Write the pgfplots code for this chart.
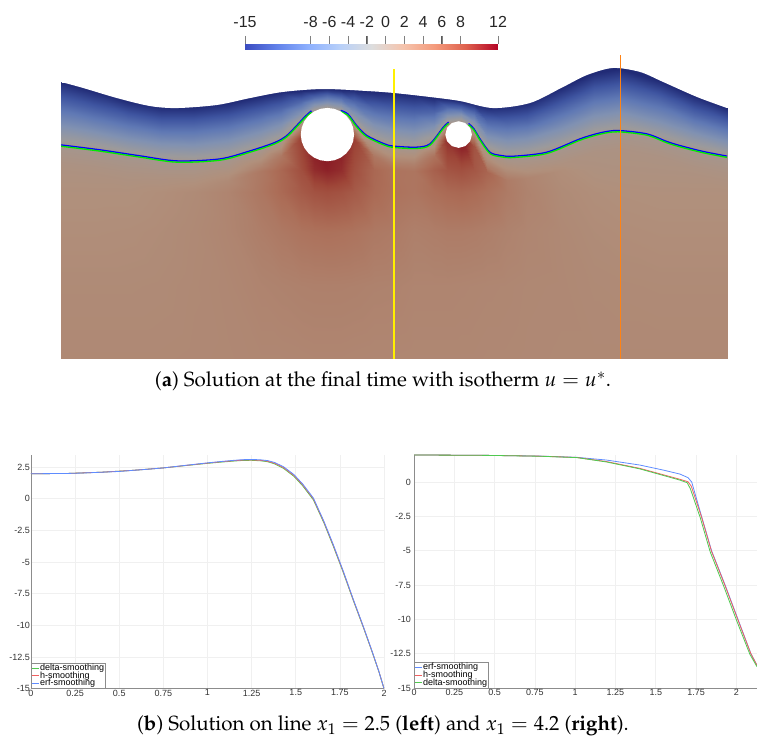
\documentclass[border=0pt]{standalone}
\usepackage{fontspec}
\usepackage[T1]{fontenc}
\IfFileExists{mathpazo.sty}{\usepackage{mathpazo}}{}
\usepackage{pgfplots}
\pgfplotsset{compat=1.18}
\newfontfamily\sansf{Liberation Sans}
\definecolor{isoblue}{RGB}{0,0,255}
\definecolor{isogreen}{RGB}{0,235,0}
\definecolor{vyellow}{RGB}{255,240,0}
\definecolor{vorange}{RGB}{255,130,20}
\definecolor{cerf}{RGB}{95,140,255}
\definecolor{ch}{RGB}{240,95,95}
\definecolor{cdelta}{RGB}{80,200,80}
\definecolor{tickgray}{RGB}{90,90,90}
\newcommand\capsize{\fontsize{20.5}{24}\selectfont}
\newcommand\tickf{\sansf\fontsize{9}{9}\selectfont}
\begin{document}
\begin{tikzpicture}[x=1pt,y=1pt]
\path[use as bounding box] (0,0) rectangle (757,746);

% ---------- colour bar gradient and its tick marks
\begin{axis}[at={(245pt,696pt)}, anchor=south west, scale only axis,
  width=253pt, height=6pt, view={0}{90}, clip=false,
  xmin=-15, xmax=12, ymin=0, ymax=1, zmin=-1, zmax=1, hide axis,
  colormap={cw}{rgb255=(59,76,192) rgb255=(98,130,234) rgb255=(141,176,254)
    rgb255=(184,208,249) rgb255=(221,221,221) rgb255=(245,196,173)
    rgb255=(244,154,123) rgb255=(222,96,77) rgb255=(180,4,38)},
  point meta min=-15, point meta max=12]
\addplot3[surf, shader=interp, mesh/cols=9, point meta=x] coordinates {
(-15,0,0) (-11.625,0,0) (-8.25,0,0) (-4.875,0,0) (-1.5,0,0) (1.875,0,0) (5.25,0,0) (8.625,0,0) (12,0,0)
(-15,1,0) (-11.625,1,0) (-8.25,1,0) (-4.875,1,0) (-1.5,1,0) (1.875,1,0) (5.25,1,0) (8.625,1,0) (12,1,0)
};
\addplot3[tickgray, line width=0.9pt] coordinates {(-15,1,0) (-15,2.35,0)};
\addplot3[tickgray, line width=0.9pt] coordinates {(-8,1,0) (-8,2.35,0)};
\addplot3[tickgray, line width=0.9pt] coordinates {(-6,1,0) (-6,2.35,0)};
\addplot3[tickgray, line width=0.9pt] coordinates {(-4,1,0) (-4,2.35,0)};
\addplot3[tickgray, line width=0.9pt] coordinates {(-2,1,0) (-2,2.35,0)};
\addplot3[tickgray, line width=0.9pt] coordinates {(0,1,0) (0,2.35,0)};
\addplot3[tickgray, line width=0.9pt] coordinates {(2,1,0) (2,2.35,0)};
\addplot3[tickgray, line width=0.9pt] coordinates {(4,1,0) (4,2.35,0)};
\addplot3[tickgray, line width=0.9pt] coordinates {(6,1,0) (6,2.35,0)};
\addplot3[tickgray, line width=0.9pt] coordinates {(8,1,0) (8,2.35,0)};
\addplot3[tickgray, line width=0.9pt] coordinates {(12,1,0) (12,2.35,0)};
\end{axis}
% ---------- colour bar labels
\begin{axis}[at={(245pt,696pt)}, anchor=south west, scale only axis,
  width=253pt, height=6pt,
  xmin=-15, xmax=12, ymin=0, ymax=1,
  axis x line*=top, hide y axis, x axis line style={draw=none},
  xtick={-15,-8,-6,-4,-2,0,2,4,6,8,12},
  xticklabels={-15,-8,-6,-4,-2,0,2,4,6,8,12},
  xtick align=outside, major tick length=8pt,
  xticklabel style={font=\sansf\fontsize{16}{16}\selectfont, inner sep=0pt, text=black!85, yshift=8pt}]
\end{axis}

% ---------- solution field
\begin{axis}[at={(61pt,387pt)}, anchor=south west, scale only axis,
  width=666pt, height=306.36pt, view={0}{90},
  xmin=0, xmax=5, ymin=0, ymax=2.3, zmin=-1, zmax=1, hide axis,
  colormap={field}{rgb255=(33,43,118) rgb255=(62,84,160) rgb255=(95,120,180)
    rgb255=(128,145,178) rgb255=(156,154,155) rgb255=(176,144,124)
    rgb255=(172,110,88) rgb255=(158,70,56) rgb255=(130,12,30)},
  point meta min=-15, point meta max=12]
\addplot3[surf, shader=interp, mesh/cols=29, mesh/rows=11, point meta=explicit] coordinates {
(0,0,0)[2.6] (0.25,0,0)[2.6] (0.5,0,0)[2.6] (0.75,0,0)[2.6] (1,0,0)[2.65] (1.25,0,0)[2.7] (1.5,0,0)[2.8] (1.65,0,0)[2.8] (1.8,0,0)[2.85] (1.9,0,0)[2.9] (2,0,0)[2.9] (2.1,0,0)[2.9] (2.2,0,0)[2.85] (2.35,0,0)[2.8] (2.5,0,0)[2.8] (2.65,0,0)[2.75] (2.8,0,0)[2.75] (2.9,0,0)[2.75] (3,0,0)[2.75] (3.1,0,0)[2.75] (3.2,0,0)[2.7] (3.35,0,0)[2.7] (3.5,0,0)[2.65] (3.75,0,0)[2.6] (4,0,0)[2.6] (4.2,0,0)[2.6] (4.5,0,0)[2.6] (4.75,0,0)[2.6] (5,0,0)[2.6]

(0,0.55,0)[2.4] (0.25,0.55,0)[2.4] (0.5,0.55,0)[2.4] (0.75,0.55,0)[2.45] (1,0.55,0)[2.6] (1.25,0.55,0)[2.77] (1.5,0.55,0)[3.1] (1.65,0.55,0)[3.25] (1.8,0.55,0)[3.4] (1.9,0.55,0)[3.45] (2,0.55,0)[3.46] (2.1,0.55,0)[3.45] (2.2,0.55,0)[3.4] (2.35,0.55,0)[3.25] (2.5,0.55,0)[3.2] (2.65,0.55,0)[3.0] (2.8,0.55,0)[3.0] (2.9,0.55,0)[3.0] (3,0.55,0)[2.95] (3.1,0.55,0)[2.9] (3.2,0.55,0)[2.85] (3.35,0.55,0)[2.8] (3.5,0.55,0)[2.7] (3.75,0.55,0)[2.65] (4,0.55,0)[2.5] (4.2,0.55,0)[2.45] (4.5,0.55,0)[2.4] (4.75,0.55,0)[2.4] (5,0.55,0)[2.4]

(0,0.95,0)[2.1] (0.25,0.95,0)[2.1] (0.5,0.95,0)[2.15] (0.75,0.95,0)[2.3] (1,0.95,0)[2.55] (1.25,0.95,0)[2.95] (1.5,0.95,0)[3.7] (1.65,0.95,0)[4.2] (1.8,0.95,0)[4.7] (1.9,0.95,0)[4.9] (2,0.95,0)[5.0] (2.1,0.95,0)[4.9] (2.2,0.95,0)[4.7] (2.35,0.95,0)[4.2] (2.5,0.95,0)[3.95] (2.65,0.95,0)[3.5] (2.8,0.95,0)[3.7] (2.9,0.95,0)[3.85] (3,0.95,0)[3.85] (3.1,0.95,0)[3.75] (3.2,0.95,0)[3.55] (3.35,0.95,0)[3.2] (3.5,0.95,0)[2.9] (3.75,0.95,0)[2.6] (4,0.95,0)[2.3] (4.2,0.95,0)[2.2] (4.5,0.95,0)[2.1] (4.75,0.95,0)[2.1] (5,0.95,0)[2.1]

(0,1.25,0)[1.8] (0.25,1.25,0)[1.8] (0.5,1.25,0)[1.8] (0.75,1.25,0)[2.07] (1,1.25,0)[2.4] (1.25,1.25,0)[3.05] (1.5,1.25,0)[4.4] (1.65,1.25,0)[5.6] (1.8,1.25,0)[6.9] (1.9,1.25,0)[7.6] (2,1.25,0)[7.9] (2.1,1.25,0)[7.6] (2.2,1.25,0)[6.9] (2.35,1.25,0)[5.6] (2.5,1.25,0)[4.85] (2.65,1.25,0)[4.5] (2.8,1.25,0)[5.2] (2.9,1.25,0)[5.6] (3,1.25,0)[5.8] (3.1,1.25,0)[5.5] (3.2,1.25,0)[4.95] (3.35,1.25,0)[4.0] (3.5,1.25,0)[3.2] (3.75,1.25,0)[2.4] (4,1.25,0)[2.05] (4.2,1.25,0)[1.9] (4.5,1.25,0)[1.8] (4.75,1.25,0)[1.8] (5,1.25,0)[1.8]

(0,1.42,0)[1.4] (0.25,1.397,0)[1.4] (0.5,1.355,0)[1.4] (0.75,1.32,0)[1.6] (1,1.311,0)[1.9] (1.25,1.335,0)[2.5] (1.5,1.41,0)[4.2] (1.65,1.42,0)[5.8] (1.8,1.42,0)[7.9] (1.9,1.42,0)[10.1] (2,1.42,0)[10.75] (2.1,1.42,0)[10.1] (2.2,1.42,0)[7.9] (2.35,1.42,0)[5.8] (2.5,1.419,0)[4.7] (2.65,1.413,0)[4.55] (2.8,1.42,0)[6.4] (2.9,1.42,0)[7.4] (3,1.42,0)[7.8] (3.1,1.42,0)[7.2] (3.2,1.401,0)[6.0] (3.35,1.347,0)[3.9] (3.5,1.356,0)[3.0] (3.75,1.416,0)[2.1] (4,1.42,0)[1.55] (4.2,1.42,0)[1.45] (4.5,1.42,0)[1.4] (4.75,1.398,0)[1.4] (5,1.345,0)[1.4]

(0,1.480,0)[1.1] (0.25,1.447,0)[1.1] (0.5,1.405,0)[1.1] (0.75,1.370,0)[1.3] (1,1.361,0)[1.45] (1.25,1.385,0)[1.9] (1.5,1.460,0)[3.0] (1.65,1.523,0)[4.3] (1.8,1.658,0)[9] (1.9,1.742,0)[12] (2,1.767,0)[12] (2.1,1.742,0)[12] (2.2,1.650,0)[9] (2.35,1.524,0)[4.3] (2.5,1.469,0)[3.4] (2.65,1.463,0)[3.4] (2.8,1.525,0)[4.8] (2.9,1.650,0)[10] (3,1.667,0)[12] (3.1,1.600,0)[7.5] (3.2,1.451,0)[3.9] (3.35,1.397,0)[2.7] (3.5,1.406,0)[2.0] (3.75,1.466,0)[1.5] (4,1.555,0)[1.2] (4.2,1.585,0)[1.1] (4.5,1.523,0)[1.1] (4.75,1.448,0)[1.1] (5,1.395,0)[1.1]

(0,1.600,0)[0] (0.25,1.567,0)[0] (0.5,1.525,0)[0] (0.75,1.490,0)[0] (1,1.481,0)[0] (1.25,1.505,0)[0] (1.5,1.580,0)[0] (1.65,1.643,0)[0] (1.8,1.778,0)[0] (1.9,1.862,0)[0] (2,1.887,0)[0] (2.1,1.862,0)[0] (2.2,1.770,0)[0] (2.35,1.644,0)[0] (2.5,1.589,0)[0] (2.65,1.583,0)[0] (2.8,1.645,0)[0] (2.9,1.770,0)[0] (3,1.787,0)[0] (3.1,1.720,0)[0] (3.2,1.571,0)[0] (3.35,1.517,0)[0] (3.5,1.526,0)[0] (3.75,1.586,0)[0] (4,1.675,0)[0] (4.2,1.705,0)[0] (4.5,1.643,0)[0] (4.75,1.568,0)[0] (5,1.515,0)[0]

(0,1.758,0)[-5] (0.25,1.713,0)[-5] (0.5,1.662,0)[-5] (0.75,1.623,0)[-5] (1,1.617,0)[-5] (1.25,1.643,0)[-5] (1.5,1.710,0)[-5] (1.65,1.761,0)[-5] (1.8,1.856,0)[-5] (1.9,1.915,0)[-5] (2,1.933,0)[-5] (2.1,1.914,0)[-5] (2.2,1.851,0)[-5] (2.35,1.764,0)[-5] (2.5,1.724,0)[-5] (2.65,1.714,0)[-5] (2.8,1.750,0)[-5] (2.9,1.829,0)[-5] (3,1.836,0)[-5] (3.1,1.784,0)[-5] (3.2,1.677,0)[-5] (3.35,1.643,0)[-5] (3.5,1.656,0)[-5] (3.75,1.733,0)[-5] (4,1.830,0)[-5] (4.2,1.861,0)[-5] (4.5,1.790,0)[-5] (4.75,1.703,0)[-5] (5,1.637,0)[-5]

(0,1.922,0)[-10] (0.25,1.864,0)[-10] (0.5,1.803,0)[-10] (0.75,1.760,0)[-10] (1,1.758,0)[-10] (1.25,1.786,0)[-10] (1.5,1.844,0)[-10] (1.65,1.884,0)[-10] (1.8,1.937,0)[-10] (1.9,1.969,0)[-10] (2,1.980,0)[-10] (2.1,1.969,0)[-10] (2.2,1.935,0)[-10] (2.35,1.888,0)[-10] (2.5,1.862,0)[-10] (2.65,1.849,0)[-10] (2.8,1.858,0)[-10] (2.9,1.891,0)[-10] (3,1.887,0)[-10] (3.1,1.851,0)[-10] (3.2,1.787,0)[-10] (3.35,1.773,0)[-10] (3.5,1.789,0)[-10] (3.75,1.885,0)[-10] (4,1.991,0)[-10] (4.2,2.021,0)[-10] (4.5,1.942,0)[-10] (4.75,1.843,0)[-10] (5,1.762,0)[-10]

(0,2.080,0)[-15] (0.25,2.010,0)[-15] (0.5,1.940,0)[-15] (0.75,1.893,0)[-15] (1,1.894,0)[-15] (1.25,1.924,0)[-15] (1.5,1.974,0)[-15] (1.65,2.002,0)[-15] (1.8,2.015,0)[-15] (1.9,2.022,0)[-15] (2,2.026,0)[-15] (2.1,2.021,0)[-15] (2.2,2.016,0)[-15] (2.35,2.008,0)[-15] (2.5,1.997,0)[-15] (2.65,1.980,0)[-15] (2.8,1.963,0)[-15] (2.9,1.950,0)[-15] (3,1.936,0)[-15] (3.1,1.915,0)[-15] (3.2,1.893,0)[-15] (3.35,1.899,0)[-15] (3.5,1.919,0)[-15] (3.75,2.032,0)[-15] (4,2.146,0)[-15] (4.2,2.177,0)[-15] (4.5,2.089,0)[-15] (4.75,1.978,0)[-15] (5,1.884,0)[-15]

(0,2.080,0)[-15] (0.25,2.060,0)[-15] (0.5,1.990,0)[-15] (0.75,1.943,0)[-15] (1,1.944,0)[-15] (1.25,1.974,0)[-15] (1.5,2.024,0)[-15] (1.65,2.052,0)[-15] (1.8,2.065,0)[-15] (1.9,2.072,0)[-15] (2,2.076,0)[-15] (2.1,2.071,0)[-15] (2.2,2.066,0)[-15] (2.35,2.058,0)[-15] (2.5,2.047,0)[-15] (2.65,2.030,0)[-15] (2.8,2.013,0)[-15] (2.9,2.000,0)[-15] (3,1.986,0)[-15] (3.1,1.965,0)[-15] (3.2,1.943,0)[-15] (3.35,1.949,0)[-15] (3.5,1.969,0)[-15] (3.75,2.082,0)[-15] (4,2.196,0)[-15] (4.2,2.227,0)[-15] (4.5,2.139,0)[-15] (4.75,2.028,0)[-15] (5,1.884,0)[-15]
};
% white above the free surface
\addplot3[fill=white, draw=none, smooth] coordinates {
(-0.15,2.12,0) (0,2.080,0) (0.165,2.035,0) (0.42,1.959,0) (0.668,1.899,0) (0.871,1.884,0)
(1.171,1.907,0) (1.419,1.959,0) (1.667,2.005,0) (1.967,2.027,0) (2.297,2.012,0) (2.5,1.997,0)
(2.77,1.967,0) (2.995,1.937,0) (3.243,1.884,0) (3.521,1.922,0) (3.769,2.042,0) (3.949,2.132,0)
(4.144,2.185,0) (4.347,2.155,0) (4.52,2.08,0) (4.775,1.967,0) (5.0,1.884,0) (5.15,1.83,0)
(5.15,2.6,0) (-0.15,2.6,0)};
% isotherm (blue edge above, green below)
\addplot3[isoblue, line width=1.3pt, smooth, yshift=1.1pt] coordinates {
(0,1.599,0) (0.293,1.562,0) (0.593,1.517,0) (0.871,1.479,0) (1.194,1.494,0) (1.419,1.554,0)
(1.60,1.615,0) (1.69,1.665,0) (1.77,1.745,0) (1.83,1.81,0) (1.88,1.855,0)};
\addplot3[isoblue, line width=1.3pt, smooth, yshift=1.1pt] coordinates {
(2.1,1.858,0) (2.155,1.83,0) (2.22,1.744,0) (2.295,1.67,0) (2.42,1.61,0) (2.495,1.59,0)
(2.67,1.582,0) (2.77,1.607,0) (2.87,1.732,0) (2.91,1.77,0)};
\addplot3[isoblue, line width=1.3pt, smooth, yshift=1.1pt] coordinates {
(3.06,1.76,0) (3.10,1.72,0) (3.146,1.644,0) (3.22,1.544,0) (3.30,1.52,0) (3.396,1.514,0)
(3.646,1.544,0) (3.896,1.644,0) (4.05,1.69,0) (4.18,1.707,0) (4.397,1.682,0) (4.547,1.625,0)
(4.647,1.594,0) (4.82,1.55,0) (5.0,1.515,0)};
\addplot3[isogreen, line width=1.3pt, smooth, yshift=-0.2pt] coordinates {
(0,1.599,0) (0.293,1.562,0) (0.593,1.517,0) (0.871,1.479,0) (1.194,1.494,0) (1.419,1.554,0)
(1.60,1.615,0) (1.69,1.665,0) (1.77,1.745,0) (1.83,1.81,0) (1.88,1.855,0)};
\addplot3[isogreen, line width=1.3pt, smooth, yshift=-0.2pt] coordinates {
(2.1,1.858,0) (2.155,1.83,0) (2.22,1.744,0) (2.295,1.67,0) (2.42,1.61,0) (2.495,1.59,0)
(2.67,1.582,0) (2.77,1.607,0) (2.87,1.732,0) (2.91,1.77,0)};
\addplot3[isogreen, line width=1.3pt, smooth, yshift=-0.2pt] coordinates {
(3.06,1.76,0) (3.10,1.72,0) (3.146,1.644,0) (3.22,1.544,0) (3.30,1.52,0) (3.396,1.514,0)
(3.646,1.544,0) (3.896,1.644,0) (4.05,1.69,0) (4.18,1.707,0) (4.397,1.682,0) (4.547,1.625,0)
(4.647,1.594,0) (4.82,1.55,0) (5.0,1.515,0)};
% holes
\addplot3[fill=white, draw=none] coordinates {
(2.2,1.685,0) (2.1932,1.7368,0) (2.1732,1.785,0) (2.1414,1.8264,0) (2.1,1.8582,0) (2.0518,1.8782,0)
(2,1.885,0) (1.9482,1.8782,0) (1.9,1.8582,0) (1.8586,1.8264,0) (1.8268,1.785,0) (1.8068,1.7368,0)
(1.8,1.685,0) (1.8068,1.6332,0) (1.8268,1.585,0) (1.8586,1.5436,0) (1.9,1.5118,0) (1.9482,1.4918,0)
(2,1.485,0) (2.0518,1.4918,0) (2.1,1.5118,0) (2.1414,1.5436,0) (2.1732,1.585,0) (2.1932,1.6332,0)};
\addplot3[fill=white, draw=none] coordinates {
(3.085,1.685,0) (3.0716,1.735,0) (3.035,1.7716,0) (2.985,1.785,0) (2.935,1.7716,0) (2.8984,1.735,0)
(2.885,1.685,0) (2.8984,1.635,0) (2.935,1.5984,0) (2.985,1.585,0) (3.035,1.5984,0) (3.0716,1.635,0)};
% probe lines
\addplot3[vyellow, line width=1.6pt] coordinates {(2.5,0,0) (2.5,2.175,0)};
\addplot3[vorange, line width=1.6pt] coordinates {(4.2,0,0) (4.2,2.28,0)};
\end{axis}

\node[anchor=base, font=\capsize] at (383,359) {(\textbf{a}) Solution at the final time with isotherm $u=u^{*}$.};

% ---------- line x1 = 2.5
\begin{axis}[at={(31pt,57.4pt)}, anchor=south west, scale only axis,
  width=353pt, height=233.6pt,
  xmin=0, xmax=2, ymin=-15, ymax=3.45,
  axis lines=left, axis line style={-, draw=black!45, line width=0.7pt},
  xtick={0,0.25,0.5,0.75,1,1.25,1.5,1.75,2},
  xticklabels={0,0.25,0.5,0.75,1,1.25,1.5,1.75,2},
  ytick={-15,-12.5,-10,-7.5,-5,-2.5,0,2.5},
  yticklabels={-15,-12.5,-10,-7.5,-5,-2.5,0,2.5},
  major tick length=0pt, grid=major, grid style={black!6, line width=0.6pt},
  tick label style={font=\tickf, text=black!80, inner sep=1pt},
  legend style={at={(0,0)}, anchor=south west, draw=black!45, fill=white,
    font=\tickf, inner sep=0.6pt, row sep=-1.6pt, legend cell align=left,
    nodes={inner sep=0.6pt}},
  legend image code/.code={\draw[#1] (0pt,0pt) -- (7pt,0pt);}]
\addplot[cdelta, line width=0.8pt] coordinates {
(0,1.97) (0.2,1.99) (0.4,2.09) (0.58,2.24) (0.75,2.43) (0.88,2.62) (1.0,2.79) (1.08,2.89)
(1.15,2.97) (1.2,3.02) (1.25,3.03) (1.3,2.99) (1.34,2.92) (1.38,2.75) (1.43,2.40) (1.49,1.76)
(1.54,1.0) (1.6,-0.1) (1.66,-1.93) (1.713,-3.77) (1.77,-5.86) (1.827,-8.08) (1.883,-10.17)
(1.93,-12.0) (1.97,-13.62) (2.0,-15)};
\addplot[ch, line width=0.8pt] coordinates {
(0,1.97) (0.2,1.99) (0.4,2.09) (0.58,2.24) (0.75,2.43) (0.88,2.63) (1.0,2.81) (1.08,2.92)
(1.15,3.0) (1.2,3.05) (1.25,3.06) (1.3,3.03) (1.34,2.96) (1.38,2.80) (1.43,2.46) (1.49,1.83)
(1.54,1.08) (1.6,-0.02) (1.66,-1.86) (1.713,-3.7) (1.77,-5.8) (1.827,-8.03) (1.883,-10.13)
(1.93,-11.97) (1.97,-13.6) (2.0,-15)};
\addplot[cerf, line width=0.8pt] coordinates {
(0,1.97) (0.1,1.98) (0.2,1.99) (0.3,2.03) (0.4,2.09) (0.5,2.15) (0.58,2.24) (0.65,2.31)
(0.75,2.43) (0.88,2.64) (1.0,2.83) (1.08,2.94) (1.15,3.03) (1.2,3.08) (1.25,3.10) (1.3,3.07)
(1.34,3.01) (1.38,2.86) (1.43,2.53) (1.49,1.90) (1.54,1.15) (1.6,0.05) (1.66,-1.80)
(1.713,-3.64) (1.77,-5.75) (1.827,-7.99) (1.883,-10.1) (1.93,-11.95) (1.97,-13.6) (2.0,-15)};
\legend{delta-smoothing,h-smoothing,erf-smoothing}
\end{axis}

% ---------- line x1 = 4.2
\begin{axis}[at={(414pt,58pt)}, anchor=south west, scale only axis,
  width=343pt, height=233pt,
  xmin=0, xmax=2.128, ymin=-15, ymax=1.97,
  axis lines=left, axis line style={-, draw=black!45, line width=0.7pt},
  xtick={0,0.25,0.5,0.75,1,1.25,1.5,1.75,2},
  xticklabels={0,0.25,0.5,0.75,1,1.25,1.5,1.75,2},
  ytick={-15,-12.5,-10,-7.5,-5,-2.5,0},
  yticklabels={-15,-12.5,-10,-7.5,-5,-2.5,0},
  major tick length=0pt, grid=major, grid style={black!6, line width=0.6pt},
  tick label style={font=\tickf, text=black!80, inner sep=1pt},
  yticklabel style={xshift=-2pt},
  legend style={at={(0,0)}, anchor=south west, draw=black!45, fill=white,
    font=\tickf, inner sep=0.6pt, row sep=-1.6pt, legend cell align=left,
    nodes={inner sep=0.6pt}},
  legend image code/.code={\draw[#1] (0pt,0pt) -- (7pt,0pt);}]
\addplot[cerf, line width=0.8pt] coordinates {
(0,1.97) (0.3,1.955) (0.47,1.94) (0.78,1.89) (1.01,1.80) (1.195,1.60) (1.4,1.24) (1.547,0.87)
(1.65,0.58) (1.70,0.32) (1.723,0.0) (1.784,-2.5) (1.846,-5.0) (1.93,-7.5) (2.01,-10.0)
(2.09,-12.5) (2.128,-13.35)};
\addplot[ch, line width=0.8pt] coordinates {
(0,1.97) (0.3,1.955) (0.47,1.94) (0.78,1.885) (1.01,1.79) (1.195,1.49) (1.4,1.0) (1.547,0.53)
(1.65,0.2) (1.70,0.02) (1.72,-0.3) (1.784,-2.55) (1.846,-5.05) (1.93,-7.55) (2.01,-10.05)
(2.09,-12.5) (2.128,-13.35)};
\addplot[cdelta, line width=0.8pt] coordinates {
(0,1.97) (0.3,1.955) (0.47,1.94) (0.78,1.88) (1.01,1.78) (1.195,1.46) (1.4,0.96) (1.547,0.48)
(1.65,0.14) (1.695,-0.05) (1.715,-0.5) (1.776,-2.6) (1.838,-5.1) (1.922,-7.6) (2.002,-10.1)
(2.084,-12.55) (2.128,-13.45)};
\legend{erf-smoothing,h-smoothing,delta-smoothing}
\end{axis}

\node[anchor=base, font=\capsize] at (383,15) {(\textbf{b}) Solution on line $x_1=2.5$ (\textbf{left}) and $x_1=4.2$ (\textbf{right}).};
\end{tikzpicture}
\end{document}
